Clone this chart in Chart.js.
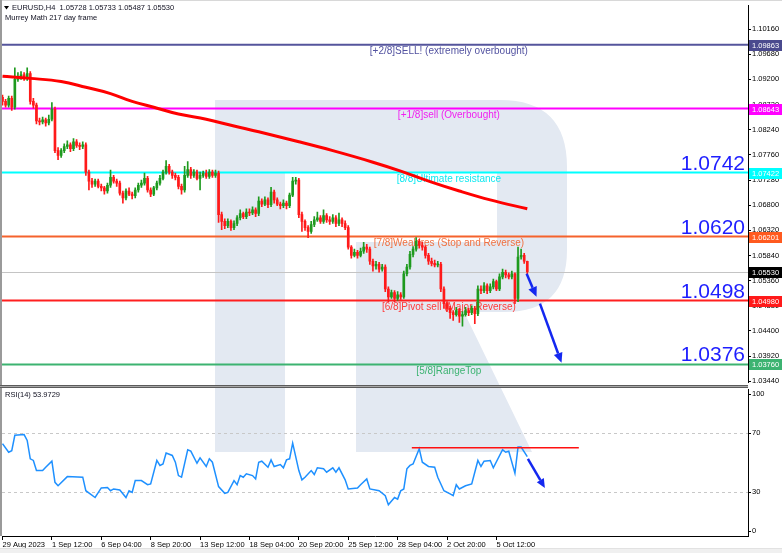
<!DOCTYPE html>
<html>
<head>
<meta charset="utf-8">
<script src="https://cdn.jsdelivr.net/npm/chart.js@4.4.0/dist/chart.umd.min.js"></script>
<style>
  body { margin: 0; background: #fff; }
  #wrap { position: relative; width: 782px; height: 553px; overflow: hidden; background: #fff; }
  #main { position: absolute; left: 0; top: 0; }
  #rsi { position: absolute; left: 0; top: 388px; }
  #strip { position: absolute; left: 0; top: 548px; width: 782px; height: 5px; background: #f0f0f0; border-top: 1px solid #e2e2e2; }
</style>
</head>
<body>
<div id="wrap">
  <canvas id="main" width="782" height="388"></canvas>
  <canvas id="rsi" width="782" height="165"></canvas>
  <div id="strip"></div>
</div>
<script>
const FONT = "'Liberation Sans', Arial, sans-serif";

// EURUSD H4 candles, bar 0 = 29 Aug 2023 20:00
const opens = [
  1.0886,1.0878,1.0871,1.0884,1.0867,1.0920,1.0926,1.0929,1.0922,1.0931,
  1.0878,1.0871,1.0841,1.0839,1.0843,1.0837,1.0844,1.0863,1.0784,1.0775,
  1.0784,1.0792,1.0795,1.0788,1.0801,1.0794,1.0792,1.0795,1.0743,1.0726,
  1.0720,1.0726,1.0716,1.0713,1.0707,1.0718,1.0733,1.0726,1.0722,1.0703,
  1.0694,1.0707,1.0701,1.0698,1.0709,1.0718,1.0722,1.0731,1.0709,1.0701,
  1.0713,1.0722,1.0731,1.0743,1.0754,1.0743,1.0737,1.0733,1.0716,1.0709,
  1.0737,1.0748,1.0737,1.0743,1.0731,1.0737,1.0741,1.0735,1.0743,1.0737,
  1.0741,1.0662,1.0649,1.0641,1.0649,1.0637,1.0645,1.0656,1.0664,1.0658,
  1.0667,1.0665,1.0671,1.0664,1.0688,1.0682,1.0690,1.0681,1.0705,1.0690,
  1.0682,1.0679,1.0684,1.0679,1.0699,1.0726,1.0728,1.0662,1.0649,1.0637,
  1.0630,1.0643,1.0652,1.0656,1.0649,1.0660,1.0652,1.0649,1.0656,1.0645,
  1.0652,1.0645,1.0637,1.0600,1.0584,1.0590,1.0584,1.0592,1.0600,1.0596,
  1.0573,1.0564,1.0567,1.0558,1.0562,1.0520,1.0505,1.0513,1.0502,1.0509,
  1.0505,1.0549,1.0562,1.0586,1.0596,1.0611,1.0603,1.0600,1.0584,1.0573,
  1.0569,1.0566,1.0567,1.0520,1.0492,1.0483,1.0475,1.0471,1.0479,1.0468,
  1.0471,1.0479,1.0475,1.0483,1.0473,1.0520,1.0517,1.0526,1.0517,1.0524,
  1.0534,1.0520,1.0543,1.0552,1.0547,1.0543,1.0549,1.0502,1.0581,1.0584,
  1.05728
];
const highs = [
  1.0890,1.0882,1.0888,1.0888,1.0942,1.0933,1.0935,1.0933,1.0942,1.0935,
  1.0884,1.0875,1.0846,1.0848,1.0846,1.0852,1.0876,1.0867,1.0790,1.0788,
  1.0797,1.0803,1.0799,1.0807,1.0805,1.0799,1.0801,1.0799,1.0747,1.0731,
  1.0730,1.0730,1.0720,1.0716,1.0722,1.0747,1.0737,1.0730,1.0726,1.0707,
  1.0711,1.0713,1.0705,1.0713,1.0722,1.0728,1.0741,1.0735,1.0713,1.0716,
  1.0726,1.0737,1.0747,1.0765,1.0758,1.0747,1.0741,1.0737,1.0720,1.0754,
  1.0763,1.0752,1.0748,1.0747,1.0743,1.0745,1.0747,1.0748,1.0747,1.0747,
  1.0745,1.0667,1.0654,1.0654,1.0652,1.0650,1.0660,1.0671,1.0667,1.0673,
  1.0673,1.0677,1.0675,1.0696,1.0692,1.0696,1.0694,1.0714,1.0709,1.0694,
  1.0686,1.0690,1.0688,1.0703,1.0733,1.0733,1.0731,1.0667,1.0652,1.0641,
  1.0649,1.0658,1.0667,1.0660,1.0671,1.0664,1.0658,1.0662,1.0660,1.0665,
  1.0656,1.0650,1.0641,1.0603,1.0596,1.0594,1.0598,1.0609,1.0605,1.0600,
  1.0577,1.0573,1.0571,1.0567,1.0566,1.0524,1.0518,1.0517,1.0515,1.0513,
  1.0554,1.0567,1.0592,1.0601,1.0618,1.0615,1.0609,1.0603,1.0588,1.0579,
  1.0575,1.0573,1.0571,1.0524,1.0496,1.0487,1.0479,1.0485,1.0483,1.0477,
  1.0485,1.0483,1.0488,1.0487,1.0526,1.0526,1.0532,1.0530,1.0530,1.0539,
  1.0537,1.0549,1.0558,1.0556,1.0551,1.0554,1.0551,1.0600,1.0596,1.0588,
  1.05733
];
const lows = [
  1.0871,1.0867,1.0867,1.0861,1.0863,1.0916,1.0920,1.0918,1.0918,1.0873,
  1.0865,1.0835,1.0833,1.0835,1.0831,1.0833,1.0841,1.0780,1.0767,1.0771,
  1.0780,1.0788,1.0782,1.0784,1.0790,1.0786,1.0788,1.0737,1.0709,1.0714,
  1.0716,1.0713,1.0707,1.0701,1.0703,1.0714,1.0722,1.0716,1.0699,1.0684,
  1.0690,1.0698,1.0692,1.0694,1.0705,1.0714,1.0718,1.0705,1.0696,1.0698,
  1.0709,1.0718,1.0728,1.0739,1.0739,1.0731,1.0728,1.0711,1.0701,1.0705,
  1.0733,1.0731,1.0733,1.0728,1.0709,1.0733,1.0731,1.0731,1.0733,1.0733,
  1.0647,1.0633,1.0635,1.0637,1.0632,1.0633,1.0641,1.0652,1.0654,1.0654,
  1.0660,1.0662,1.0658,1.0660,1.0677,1.0679,1.0675,1.0677,1.0684,1.0679,
  1.0673,1.0675,1.0673,1.0675,1.0696,1.0720,1.0656,1.0630,1.0632,1.0618,
  1.0626,1.0639,1.0649,1.0645,1.0645,1.0647,1.0643,1.0645,1.0639,1.0641,
  1.0639,1.0633,1.0596,1.0579,1.0581,1.0579,1.0581,1.0588,1.0590,1.0567,
  1.0554,1.0558,1.0552,1.0554,1.0515,1.0496,1.0502,1.0496,1.0498,1.0500,
  1.0502,1.0545,1.0558,1.0581,1.0592,1.0598,1.0594,1.0579,1.0567,1.0564,
  1.0562,1.0562,1.0515,1.0483,1.0477,1.0464,1.0460,1.0468,1.0456,1.0449,
  1.0468,1.0469,1.0471,1.0454,1.0469,1.0511,1.0513,1.0511,1.0513,1.0520,
  1.0517,1.0517,1.0539,1.0541,1.0539,1.0539,1.0492,1.0496,1.0577,1.0569,
  1.05487
];
const closes = [
  1.0878,1.0871,1.0884,1.0867,1.0920,1.0926,1.0929,1.0922,1.0931,1.0878,
  1.0871,1.0841,1.0839,1.0843,1.0837,1.0844,1.0863,1.0784,1.0775,1.0784,
  1.0792,1.0795,1.0788,1.0801,1.0794,1.0792,1.0795,1.0743,1.0726,1.0720,
  1.0726,1.0716,1.0713,1.0707,1.0718,1.0733,1.0726,1.0722,1.0703,1.0694,
  1.0707,1.0701,1.0698,1.0709,1.0718,1.0722,1.0731,1.0709,1.0701,1.0713,
  1.0722,1.0731,1.0743,1.0754,1.0743,1.0737,1.0733,1.0716,1.0709,1.0737,
  1.0748,1.0737,1.0743,1.0731,1.0737,1.0741,1.0735,1.0743,1.0737,1.0741,
  1.0662,1.0649,1.0641,1.0649,1.0637,1.0645,1.0656,1.0664,1.0658,1.0667,
  1.0665,1.0671,1.0664,1.0688,1.0682,1.0690,1.0681,1.0705,1.0690,1.0682,
  1.0679,1.0684,1.0679,1.0699,1.0726,1.0728,1.0662,1.0649,1.0637,1.0630,
  1.0643,1.0652,1.0656,1.0649,1.0660,1.0652,1.0649,1.0656,1.0645,1.0652,
  1.0645,1.0637,1.0600,1.0584,1.0590,1.0584,1.0592,1.0600,1.0596,1.0573,
  1.0564,1.0567,1.0558,1.0562,1.0520,1.0505,1.0513,1.0502,1.0509,1.0505,
  1.0549,1.0562,1.0586,1.0596,1.0611,1.0603,1.0600,1.0584,1.0573,1.0569,
  1.0566,1.0567,1.0520,1.0492,1.0483,1.0475,1.0471,1.0479,1.0468,1.0471,
  1.0479,1.0475,1.0483,1.0473,1.0520,1.0517,1.0526,1.0517,1.0524,1.0534,
  1.0520,1.0543,1.0552,1.0547,1.0543,1.0549,1.0502,1.0581,1.0584,1.0573,
  1.05530
];

// moving average (read at a few bars)
const maBars = [0, 9, 19, 27, 35, 42, 49, 57, 66, 75, 83, 96, 107, 120, 129, 139, 148, 158, 170];
const maValues = [1.0926, 1.0922, 1.0916, 1.0905, 1.0893, 1.0878, 1.0867, 1.0854, 1.0844, 1.0831,
  1.0820, 1.0801, 1.0784, 1.0762, 1.0745, 1.0724, 1.0707, 1.0690, 1.0673];

// RSI(14)
const rsiBars = [0,2,3,4,7,8,9,10,11,13,14,16,17,18,21,26,27,30,32,34,35,36,38,40,41,42,43,45,47,48,
  50,51,52,53,55,56,57,58,60,61,63,64,66,67,68,70,72,73,75,76,77,78,79,81,82,83,84,86,87,88,
  90,91,92,93,94,96,97,98,100,101,102,104,105,107,108,109,111,112,115,116,118,119,122,124,125,127,128,129,130,131,
  132,133,135,136,138,140,141,143,145,146,147,148,150,152,154,155,156,158,159,162,163,164,166,167,168,170];
const rsiValues = [62.8,57,58,68.5,69,65,52.5,51.4,44.5,44.5,46.8,50.9,36.5,34.2,40.4,40,30.8,26.2,32.7,33,30.8,32,31.3,26.2,30.8,29.7,37.7,37.7,34.9,35.4,
  51.4,48,49,56.4,54.8,50.2,41.1,40,58.7,57.7,49.5,53.2,47.3,52.5,50.2,33.6,29,29.7,37.7,34.9,41.1,40,42.3,41.1,38.8,50.2,50.9,46.8,51.8,47.3,
  48.6,46.4,51.8,52.5,63.2,44.5,38.2,40,44.5,41.8,46.4,45.7,43.4,46.4,43.4,46.4,38.2,32,32.7,34.9,38.8,32,30.8,27.4,21.2,26.2,25.1,30.8,32,45.7,
  48,49,59.4,50.2,47.3,46.8,40,30.8,28.6,27.4,34.9,32,34.2,35.4,51.4,47.3,50.9,51.4,46.4,58.7,57,57.7,42.7,60.5,60.5,53.9729];
const rsiLevels = [70, 30];
const rsiTicks = [100, 70, 30, 0];
const rsiResistance = { from: 132.6, to: 186.7, value: 60 };

// Murrey Math levels
const murreyLevels = [1.09863, 1.08643, 1.07422, 1.06201, 1.04980, 1.03760];
const murreyNames = [
  '[+2/8]SELL! (extremely overbought)',
  '[+1/8]sell (Overbought)',
  '[8/8]Ultimate resistance',
  '[7/8]Weakires (Stop and Reverse)',
  '[6/8]Pivot sell (Major Reverse)',
  '[5/8]RangeTop'
];
const murreyColors = ['#55559c', '#ff00ff', '#00ffff', '#f5622c', '#ff1f1f', '#3cb371'];
const murreyTextColors = ['#5252a0', '#f020f0', '#10e8f0', '#f07040', '#ff3a3a', '#3cb371'];
const murreyBoxColors = ['#4a4a8e', '#ff00ff', '#00ffff', '#ff5a1f', '#ff1a1a', '#3cb371'];
const bigLevels = [1.0742, 1.0620, 1.0498, 1.0376];
const lastPrice = 1.05530;

const priceTicks = [1.10160, 1.09680, 1.09200, 1.08720, 1.08240, 1.07760, 1.07280, 1.06800,
  1.06320, 1.05840, 1.05360, 1.04880, 1.04400, 1.03920, 1.03440];

const timeTickBars = [0, 16, 32, 48, 64, 80, 96, 112, 128, 144, 160];
const timeLabels = ['29 Aug 2023', '1 Sep 12:00', '6 Sep 04:00', '8 Sep 20:00', '13 Sep 12:00',
  '18 Sep 04:00', '20 Sep 20:00', '25 Sep 12:00', '28 Sep 04:00', '2 Oct 20:00', '5 Oct 12:00'];

// forecast arrows [bar1, price1, bar2, price2]
const mainArrows = [[169.8, 1.0549, 173.0, 1.0505], [174.1, 1.0492, 181.1, 1.0379]];
const rsiArrow = [170.2, 52.5, 175.7, 32.7];

const xMin = -0.16, xMax = 241.5;
const labelBar = 144.6;
const upColor = '#1e9a1e', downColor = '#ff1a1a';

const candleIdx = closes.map((c, i) => i);
const candleColors = candleIdx.map(i => closes[i] >= opens[i] ? upColor : downColor);

// background logo, window pixels
const drawLogo = (ctx, dy) => {
  ctx.save();
  ctx.translate(0, -dy);
  ctx.fillStyle = 'rgb(227,233,242)';
  ctx.beginPath();
  ctx.moveTo(215, 100);
  ctx.lineTo(500, 100);
  ctx.quadraticCurveTo(567, 100, 567, 167);
  ctx.lineTo(567, 250);
  ctx.quadraticCurveTo(567, 312, 505, 312);
  ctx.lineTo(464, 312);
  ctx.lineTo(532, 452);
  ctx.lineTo(356, 452);
  ctx.lineTo(356, 242);
  ctx.lineTo(497, 242);
  ctx.lineTo(497, 172);
  ctx.lineTo(285, 172);
  ctx.lineTo(285, 452);
  ctx.lineTo(215, 452);
  ctx.closePath();
  ctx.fill();
  ctx.restore();
};

const drawArrow = (ctx, x1, y1, x2, y2, color, width, head) => {
  const a = Math.atan2(y2 - y1, x2 - x1);
  const bx = x2 - head * Math.cos(a), by = y2 - head * Math.sin(a);
  ctx.save();
  ctx.strokeStyle = color;
  ctx.fillStyle = color;
  ctx.lineWidth = width;
  ctx.beginPath();
  ctx.moveTo(x1, y1);
  ctx.lineTo(bx, by);
  ctx.stroke();
  ctx.beginPath();
  ctx.moveTo(x2, y2);
  ctx.lineTo(bx + head * 0.45 * Math.sin(a), by - head * 0.45 * Math.cos(a));
  ctx.lineTo(bx - head * 0.45 * Math.sin(a), by + head * 0.45 * Math.cos(a));
  ctx.closePath();
  ctx.fill();
  ctx.restore();
};

const mainPlugin = {
  id: 'murrey',
  beforeDraw(chart) {
    drawLogo(chart.ctx, 0);
  },
  beforeDatasetsDraw(chart) {
    const { ctx, chartArea: area, scales: { x, y } } = chart;
    ctx.save();
    // current price line
    const lp = Math.round(y.getPixelForValue(lastPrice)) + 0.5;
    ctx.strokeStyle = '#c4c4c4';
    ctx.lineWidth = 1;
    ctx.beginPath();
    ctx.moveTo(area.left, lp);
    ctx.lineTo(area.right, lp);
    ctx.stroke();
    murreyLevels.forEach((lvl, i) => {
      const py = y.getPixelForValue(lvl);
      ctx.strokeStyle = murreyColors[i];
      ctx.lineWidth = 2;
      ctx.beginPath();
      ctx.moveTo(area.left, py);
      ctx.lineTo(area.right, py);
      ctx.stroke();
      ctx.fillStyle = murreyTextColors[i];
      ctx.font = '10px ' + FONT;
      ctx.textAlign = 'center';
      ctx.textBaseline = 'middle';
      ctx.fillText(murreyNames[i], x.getPixelForValue(labelBar), py + 7);
    });
    bigLevels.forEach((lvl, i) => {
      const py = y.getPixelForValue(murreyLevels[i + 2]);
      ctx.fillStyle = '#1e1eff';
      ctx.font = '21px ' + FONT;
      ctx.textAlign = 'right';
      ctx.textBaseline = 'alphabetic';
      ctx.fillText(lvl.toFixed(4), area.right - 3, py - 3);
    });
    ctx.restore();
  },
  afterDatasetsDraw(chart) {
    const { ctx, scales: { x, y } } = chart;
    mainArrows.forEach(a => {
      drawArrow(ctx, x.getPixelForValue(a[0]), y.getPixelForValue(a[1]),
        x.getPixelForValue(a[2]), y.getPixelForValue(a[3]), '#1428f0', 2.5, 10);
    });
  },
  afterDraw(chart) {
    const { ctx, chartArea: area, scales: { y } } = chart;
    ctx.save();
    const boxes = murreyLevels.map((lvl, i) => [lvl, murreyBoxColors[i]]);
    boxes.push([lastPrice, '#000000']);
    boxes.forEach(([lvl, col]) => {
      const py = y.getPixelForValue(lvl);
      ctx.fillStyle = col;
      ctx.fillRect(area.right + 1, Math.round(py) - 5, 33, 11);
      ctx.fillStyle = '#fff';
      ctx.font = '7.5px ' + FONT;
      ctx.textAlign = 'left';
      ctx.textBaseline = 'middle';
      ctx.fillText(lvl.toFixed(5), area.right + 4, Math.round(py) + 0.5);
    });
    // header
    ctx.fillStyle = '#000';
    ctx.beginPath();
    ctx.moveTo(4, 6); ctx.lineTo(9, 6); ctx.lineTo(6.5, 9.5);
    ctx.closePath();
    ctx.fill();
    ctx.fillStyle = '#101020';
    ctx.font = '7.5px ' + FONT;
    ctx.textAlign = 'left';
    ctx.textBaseline = 'middle';
    const n = closes.length - 1;
    ctx.fillText('EURUSD,H4  ' + opens[n].toFixed(5) + ' ' + highs[n].toFixed(5) + ' ' +
      lows[n].toFixed(5) + ' ' + closes[n].toFixed(5), 12, 8);
    ctx.fillText('Murrey Math 217 day frame', 5, 18);
    // frame
    ctx.fillStyle = '#d8d8d8';
    ctx.fillRect(0, 0, 782, 1);
    ctx.fillStyle = '#9a9a9a';
    ctx.fillRect(0, 0, 2, 388);
    ctx.fillStyle = '#a8a8a8';
    ctx.fillRect(0, 385, area.right, 3);
    ctx.fillStyle = '#5c5c5c';
    ctx.fillRect(0, 385, area.right, 1);
    ctx.fillRect(0, 387, area.right, 1);
    ctx.restore();
  }
};

const rsiPlugin = {
  id: 'rsiDeco',
  beforeDraw(chart) {
    drawLogo(chart.ctx, 388);
  },
  beforeDatasetsDraw(chart) {
    const { ctx, chartArea: area, scales: { y } } = chart;
    ctx.save();
    ctx.strokeStyle = '#c8c8c8';
    ctx.lineWidth = 1;
    ctx.setLineDash([3, 3]);
    rsiLevels.forEach(v => {
      const py = Math.round(y.getPixelForValue(v)) + 0.5;
      ctx.beginPath();
      ctx.moveTo(area.left, py);
      ctx.lineTo(area.right, py);
      ctx.stroke();
    });
    ctx.restore();
  },
  afterDatasetsDraw(chart) {
    const { ctx, scales: { x, y } } = chart;
    ctx.save();
    const py = y.getPixelForValue(rsiResistance.value);
    ctx.strokeStyle = '#ff1010';
    ctx.lineWidth = 1.5;
    ctx.beginPath();
    ctx.moveTo(x.getPixelForValue(rsiResistance.from), py);
    ctx.lineTo(x.getPixelForValue(rsiResistance.to), py);
    ctx.stroke();
    ctx.restore();
    drawArrow(ctx, x.getPixelForValue(rsiArrow[0]), y.getPixelForValue(rsiArrow[1]),
      x.getPixelForValue(rsiArrow[2]), y.getPixelForValue(rsiArrow[3]), '#1428f0', 2.5, 9);
  },
  afterDraw(chart) {
    const { ctx, chartArea: area, scales: { y } } = chart;
    ctx.save();
    ctx.font = '7.5px ' + FONT;
    ctx.textAlign = 'left';
    ctx.textBaseline = 'middle';
    rsiTicks.forEach(v => {
      const py = y.getPixelForValue(v);
      const ly = Math.min(Math.max(py, area.top + 4.5), area.bottom - 5);
      ctx.fillStyle = '#000';
      ctx.fillRect(area.right, Math.round(ly), 3, 1);
      ctx.fillText(String(v), area.right + 4, ly);
    });
    ctx.fillStyle = '#101020';
    ctx.fillText('RSI(14) ' + rsiValues[rsiValues.length - 1].toFixed(4), 5, 7);
    ctx.fillStyle = '#9a9a9a';
    ctx.fillRect(0, 0, 2, area.bottom);
    ctx.restore();
  }
};

new Chart(document.getElementById('main'), {
  type: 'bar',
  data: {
    datasets: [
      {
        type: 'line',
        data: maBars.map((b, i) => ({ x: b, y: maValues[i] })),
        borderColor: '#ff0000',
        borderWidth: 3,
        pointRadius: 0,
        tension: 0.4,
        order: 0
      },
      {
        data: candleIdx.map(i => ({ x: i, y: [opens[i], closes[i]] })),
        backgroundColor: candleColors,
        barThickness: 2,
        minBarLength: 1,
        grouped: false,
        order: 1
      },
      {
        data: candleIdx.map(i => ({ x: i, y: [lows[i], highs[i]] })),
        backgroundColor: candleColors,
        barThickness: 1,
        grouped: false,
        order: 2
      }
    ]
  },
  options: {
    responsive: false,
    animation: false,
    devicePixelRatio: 1,
    layout: { padding: { left: 2, top: 3, right: 0, bottom: 3 } },
    plugins: { legend: { display: false }, tooltip: { enabled: false } },
    scales: {
      x: { type: 'linear', min: xMin, max: xMax, offset: false, display: false },
      y: {
        position: 'right',
        min: 1.03415,
        max: 1.10611,
        afterBuildTicks: (s) => { s.ticks = priceTicks.map(v => ({ value: v })); },
        afterFit: (s) => { s.width = 34; },
        ticks: { font: { family: FONT, size: 7.5 }, color: '#000', padding: 1, callback: (v) => v.toFixed(5) },
        grid: { drawOnChartArea: false, tickLength: 3, color: '#000' },
        border: { display: true, color: '#000' }
      }
    }
  },
  plugins: [mainPlugin]
});

new Chart(document.getElementById('rsi'), {
  type: 'line',
  data: {
    datasets: [{
      data: rsiBars.map((b, i) => ({ x: b, y: rsiValues[i] })),
      borderColor: '#1e90ff',
      borderWidth: 1.5,
      pointRadius: 0,
      tension: 0
    }]
  },
  options: {
    responsive: false,
    animation: false,
    devicePixelRatio: 1,
    layout: { padding: { left: 2, top: 1, right: 0, bottom: 0 } },
    plugins: { legend: { display: false }, tooltip: { enabled: false } },
    scales: {
      x: {
        type: 'linear', min: xMin, max: xMax, offset: false,
        afterBuildTicks: (s) => { s.ticks = timeTickBars.map(v => ({ value: v })); },
        afterFit: (s) => { s.height = 17; },
        ticks: {
          align: 'start', autoSkip: false, maxRotation: 0, padding: 0,
          font: { family: FONT, size: 7.5 }, color: '#000',
          callback: (v) => timeLabels[timeTickBars.indexOf(v)]
        },
        grid: { drawOnChartArea: false, tickLength: 4, color: '#000' },
        border: { display: true, color: '#000' }
      },
      y: {
        position: 'right', min: 0, max: 100,
        afterBuildTicks: (s) => { s.ticks = []; },
        afterFit: (s) => { s.width = 34; },
        ticks: { display: false },
        grid: { display: false },
        border: { display: true, color: '#000' }
      }
    }
  },
  plugins: [rsiPlugin]
});
</script>
</body>
</html>
